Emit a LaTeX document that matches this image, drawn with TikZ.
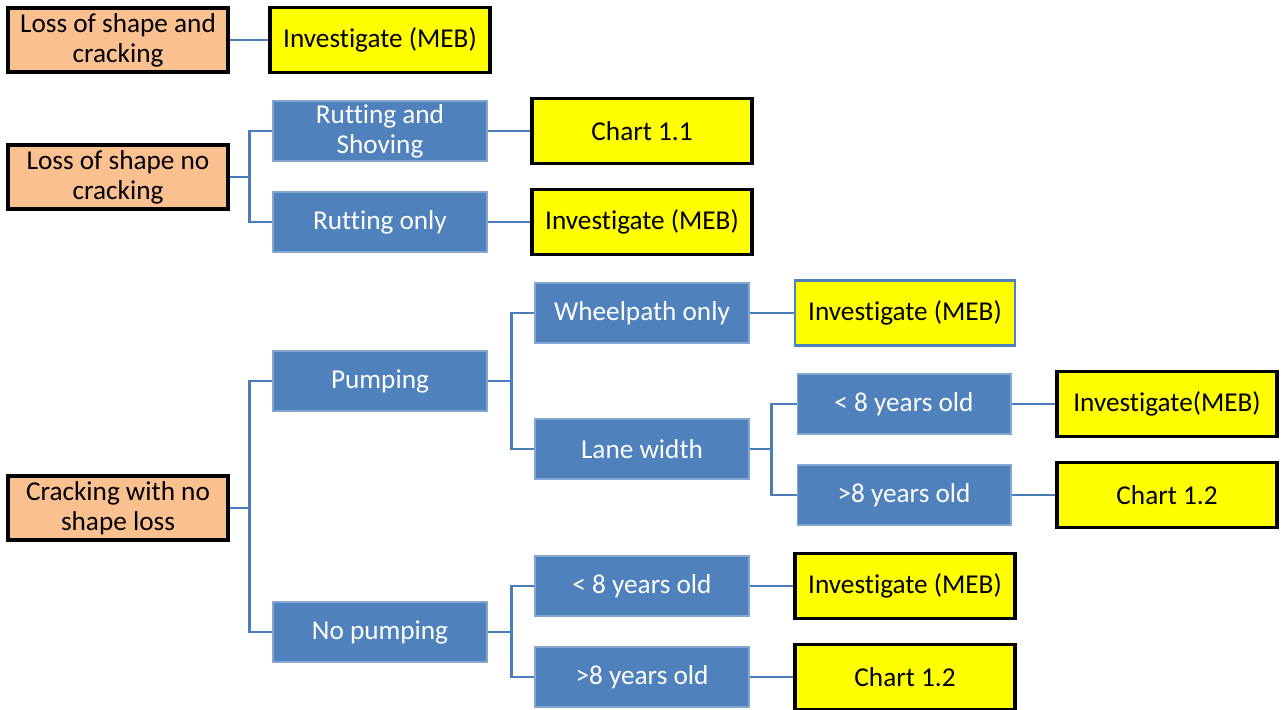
\documentclass[tikz,border=0pt]{standalone}
\usepackage{fontspec}
\setmainfont{Carlito}[Ligatures=NoCommon]
\definecolor{peach}{HTML}{FAC090}
\definecolor{steel}{HTML}{4F81BD}
\definecolor{linkblue}{HTML}{4A7EBB}
\definecolor{lemon}{HTML}{FFFF00}
\tikzset{
  startbox/.style={draw=black,line width=1.8pt,fill=peach,minimum width=4.4cm,minimum height=1.28cm,align=center,inner sep=1pt,font=\fontsize{15.5}{17}\selectfont},
  stepbox/.style={draw=steel!70!white,line width=0.6pt,fill=steel,text=white,minimum width=4.28cm,minimum height=1.2cm,align=center,inner sep=1pt,font=\fontsize{15.5}{17}\selectfont},
  endbox/.style={draw=black,line width=1.8pt,fill=lemon,minimum width=4.4cm,minimum height=1.3cm,align=center,inner sep=1pt,font=\fontsize{15.5}{17}\selectfont},
  link/.style={draw=linkblue,line width=1.4pt}
}
\begin{document}
\begin{tikzpicture}[x=0.02cm,y=-0.02cm]
  \useasboundingbox (0,0) rectangle (1282,710);
  \node[startbox] (shapecrack) at (118,40) {Loss of shape and\\cracking};
  \node[endbox] (meba) at (380,40) {Investigate (MEB)};
  \draw[link] (shapecrack) -- (meba);

  \node[startbox] (shapenocrack) at (118,177) {Loss of shape no\\cracking};
  \node[stepbox] (rutshove) at (380,131) {Rutting and\\Shoving};
  \node[stepbox] (rutonly) at (380,222) {Rutting only};
  \node[endbox] (chartaa) at (642,131) {Chart 1.1};
  \node[endbox] (mebb) at (642,222) {Investigate (MEB)};
  \draw[link] (shapenocrack.east) -- ++(20,0) |- (rutshove.west);
  \draw[link] (shapenocrack.east) -- ++(20,0) |- (rutonly.west);
  \draw[link] (rutshove) -- (chartaa);
  \draw[link] (rutonly) -- (mebb);

  \node[startbox] (cracknoshape) at (118,508) {Cracking with no\\shape loss};
  \node[stepbox] (pump) at (380,381) {Pumping};
  \node[stepbox] (nopump) at (380,632) {No pumping};
  \draw[link] (cracknoshape.east) -- ++(20,0) |- (pump.west);
  \draw[link] (cracknoshape.east) -- ++(20,0) |- (nopump.west);

  \node[stepbox] (wheel) at (642,313) {Wheelpath only};
  \node[stepbox] (lane) at (642,449) {Lane width};
  \node[endbox,draw=steel,line width=1.2pt] (mebc) at (905,313) {Investigate (MEB)};
  \draw[link] (pump.east) -- ++(24,0) |- (wheel.west);
  \draw[link] (pump.east) -- ++(24,0) |- (lane.west);
  \draw[link] (wheel) -- (mebc);

  \node[stepbox] (laneyoung) at (904,404) {< 8 years old};
  \node[stepbox] (laneold) at (904,495) {>8 years old};
  \node[endbox] (mebd) at (1167,404) {Investigate(MEB)};
  \node[endbox] (chartab) at (1167,495) {Chart 1.2};
  \draw[link] (lane.east) -- ++(22,0) |- (laneyoung.west);
  \draw[link] (lane.east) -- ++(22,0) |- (laneold.west);
  \draw[link] (laneyoung) -- (mebd);
  \draw[link] (laneold) -- (chartab);

  \node[stepbox] (young) at (642,586) {< 8 years old};
  \node[stepbox] (old) at (642,677) {>8 years old};
  \node[endbox] (mebe) at (905,586) {Investigate (MEB)};
  \node[endbox] (chartac) at (905,677) {Chart 1.2};
  \draw[link] (nopump.east) -- ++(24,0) |- (young.west);
  \draw[link] (nopump.east) -- ++(24,0) |- (old.west);
  \draw[link] (young) -- (mebe);
  \draw[link] (old) -- (chartac);
\end{tikzpicture}
\end{document}
